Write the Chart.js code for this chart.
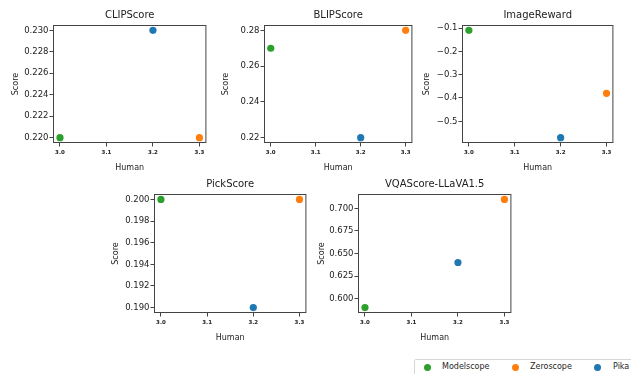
<!DOCTYPE html>
<html>
<head>
<meta charset="utf-8">
<script src="https://cdn.jsdelivr.net/npm/chart.js@4.4.1/dist/chart.umd.min.js"></script>
<style>
  html, body { margin: 0; padding: 0; background: #ffffff; }
  #fig { position: relative; width: 631px; height: 374px; overflow: hidden; background: #ffffff; font-family: "DejaVu Sans", sans-serif; }
  canvas { position: absolute; }
  #legend { position: absolute; left: 414px; top: 359px; width: 240px; height: 22px; border: 1px solid #d6d6d6; border-radius: 2px; background: #fff; box-sizing: border-box; }
  .li-dot { position: absolute; width: 7px; height: 7px; border-radius: 50%; top: 4px; }
  .li-txt { position: absolute; top: 1px; font-size: 8px; line-height: 12px; color: #262626; font-family: "DejaVu Sans", sans-serif; white-space: nowrap; }
</style>
</head>
<body>
<div id="fig"></div>
<script>
// ---- data ----
const methods = ['Modelscope', 'Zeroscope', 'Pika'];
const methodColors = ['#2ca02c', '#ff7f0e', '#1f77b4'];
const humanScores = [3.0, 3.3, 3.2];

const metricTitles = ['CLIPScore', 'BLIPScore', 'ImageReward', 'PickScore', 'VQAScore-LLaVA1.5'];
const clipScore   = [0.220, 0.220, 0.230];
const blipScore   = [0.27, 0.28, 0.22];
const imageReward = [-0.11, -0.38, -0.57];
const pickScore   = [0.200, 0.200, 0.190];
const vqaScore    = [0.59, 0.71, 0.64];

const xTickValues = [3.0, 3.1, 3.2, 3.3];
const clipTicks   = [0.220, 0.222, 0.224, 0.226, 0.228, 0.230];
const blipTicks   = [0.22, 0.24, 0.26, 0.28];
const rewardTicks = [-0.5, -0.4, -0.3, -0.2, -0.1];
const pickTicks   = [0.190, 0.192, 0.194, 0.196, 0.198, 0.200];
const vqaTicks    = [0.600, 0.625, 0.650, 0.675, 0.700];

const xLabel = 'Human';
const yLabel = 'Score';

// ---- layout (plot rectangles: left, top, width, height) ----
const panels = [
  { title: metricTitles[0], values: clipScore,   ticks: clipTicks,   dec: 3, rect: [53, 25, 155, 118],  yTitleOff: 37 },
  { title: metricTitles[1], values: blipScore,   ticks: blipTicks,   dec: 2, rect: [264, 25, 150, 118], yTitleOff: 38 },
  { title: metricTitles[2], values: imageReward, ticks: rewardTicks, dec: 1, rect: [462, 25, 153, 118], yTitleOff: 35 },
  { title: metricTitles[3], values: pickScore,   ticks: pickTicks,   dec: 3, rect: [154, 194, 154, 119], yTitleOff: 38 },
  { title: metricTitles[4], values: vqaScore,    ticks: vqaTicks,    dec: 3, rect: [358, 194, 155, 119], yTitleOff: 36 }
];

const FONT = '"DejaVu Sans", sans-serif';
const TXT = '#222222';
const AXC = '#444444';
const PAD_L = 50, PAD_T = 25, PAD_B = 35, PAD_R = 2;

function limits(arr) {
  const mn = Math.min(...arr), mx = Math.max(...arr);
  const m = (mx - mn) * 0.05;
  return [mn - m, mx + m];
}

const frame = {
  id: 'frame',
  beforeDatasetsDraw(chart) {
    const { left, top, right, bottom } = chart.chartArea;
    const ctx = chart.ctx;
    ctx.save();
    ctx.strokeStyle = AXC;
    ctx.lineWidth = 1;
    ctx.strokeRect(left + 0.5, top + 0.5, right - left - 1, bottom - top - 1);
    ctx.restore();
  }
};

const fig = document.getElementById('fig');
const xl = limits(humanScores);

panels.forEach(p => {
  const [L, T, W, H] = p.rect;
  const cw = PAD_L + W + PAD_R;
  const ch = PAD_T + H + PAD_B;
  const cv = document.createElement('canvas');
  cv.width = cw; cv.height = ch;
  cv.style.left = (L - PAD_L) + 'px';
  cv.style.top = (T - PAD_T) + 'px';
  cv.style.width = cw + 'px';
  cv.style.height = ch + 'px';
  fig.appendChild(cv);
  const yl = limits(p.values);
  new Chart(cv, {
    type: 'scatter',
    data: {
      datasets: methods.map((m, i) => ({
        label: m,
        data: [{ x: humanScores[i], y: p.values[i] }],
        backgroundColor: methodColors[i],
        borderWidth: 0,
        pointRadius: 3.6,
        pointHoverRadius: 3.6
      }))
    },
    options: {
      responsive: false,
      animation: false,
      devicePixelRatio: 1,
      layout: { padding: { left: 0, right: PAD_R, top: 0, bottom: 0 } },
      plugins: {
        legend: { display: false },
        tooltip: { enabled: false },
        title: {
          display: true,
          fullSize: false,
          text: p.title,
          color: TXT,
          font: { family: FONT, size: 10, weight: 'normal', lineHeight: 1.2 },
          padding: { top: PAD_T - 10 - 6, bottom: 4 }
        }
      },
      scales: {
        x: {
          type: 'linear',
          min: xl[0], max: xl[1],
          afterBuildTicks: s => { s.ticks = xTickValues.map(v => ({ value: v })); },
          afterFit: s => { s.height = PAD_B; },
          grid: { display: true, drawOnChartArea: false, drawTicks: true, tickLength: 3.5, color: AXC, tickColor: AXC },
          border: { display: false },
          ticks: {
            color: TXT, padding: 3,
            font: { family: FONT, size: 5.5, weight: 'bold' },
            maxRotation: 0, autoSkip: false,
            callback: v => Number(v).toFixed(1)
          },
          title: {
            display: true, text: xLabel, color: TXT,
            font: { family: FONT, size: 8, lineHeight: 1.2 },
            padding: { top: 0, bottom: PAD_B - 25 - 4.8 }
          }
        },
        y: {
          type: 'linear',
          min: yl[0], max: yl[1],
          afterBuildTicks: s => { s.ticks = p.ticks.map(v => ({ value: v })); },
          afterFit: s => { s.width = PAD_L; },
          grid: { display: true, drawOnChartArea: false, drawTicks: true, tickLength: 3.5, color: AXC, tickColor: AXC },
          border: { display: false },
          ticks: {
            color: TXT, padding: 1,
            font: { family: FONT, size: 8.5 },
            autoSkip: false,
            callback: v => Number(v).toFixed(p.dec).replace('-', '\u2212')
          },
          title: {
            display: true, text: yLabel, color: TXT,
            font: { family: FONT, size: 8, lineHeight: 1.2 },
            padding: { top: PAD_L - p.yTitleOff - 4.8, bottom: 0 }
          }
        }
      }
    },
    plugins: [frame]
  });
});

// ---- legend ----
const legend = document.createElement('div');
legend.id = 'legend';
const dotX = [427, 515, 597];
const txtX = [442, 530, 613];
methods.forEach((m, i) => {
  const d = document.createElement('span');
  d.className = 'li-dot';
  d.style.left = (dotX[i] - 414 - 1 - 3.5) + 'px';
  d.style.background = methodColors[i];
  const t = document.createElement('span');
  t.className = 'li-txt';
  t.style.left = (txtX[i] - 414 - 1) + 'px';
  t.textContent = m;
  legend.appendChild(d);
  legend.appendChild(t);
});
fig.appendChild(legend);
</script>
</body>
</html>
